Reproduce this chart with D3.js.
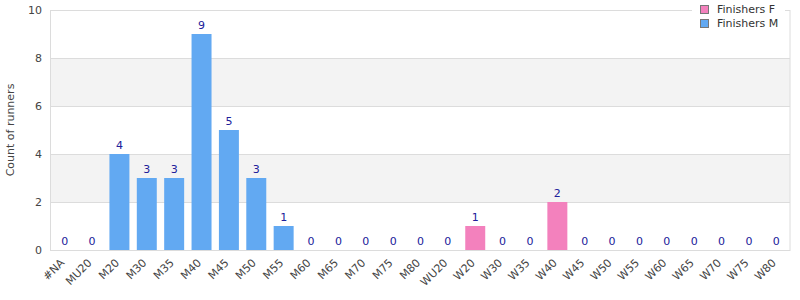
<!DOCTYPE html>
<html><head><meta charset="utf-8">
<script src="https://cdn.jsdelivr.net/npm/d3@7"></script>
<style>body{margin:0;background:#fff}svg{display:block;font-family:"DejaVu Sans",sans-serif}</style>
</head><body><svg id="c" width="800" height="300"></svg>
<script>
const categories = ["#NA","MU20","M20","M30","M35","M40","M45","M50","M55","M60","M65","M70","M75","M80","WU20","W20","W30","W35","W40","W45","W50","W55","W60","W65","W70","W75","W80"];
const finishersM = [0,0,4,3,3,9,5,3,1,0,0,0,0,0,null,null,null,null,null,null,null,null,null,null,null,null,null];
const finishersF = [null,null,null,null,null,null,null,null,null,null,null,null,null,null,0,1,0,0,2,0,0,0,0,0,0,0,0];
const yTicks = [0,2,4,6,8,10];
const seriesNames = ["Finishers F","Finishers M"];
const colors = {"Finishers F":"#f381bd","Finishers M":"#62a9f2"};

const svg = d3.select("#c");
const m = {l:51, r:10, t:10, b:50};
const W = 800, H = 300;
const x = d3.scaleBand().domain(categories).range([m.l, W - m.r]).paddingInner(0.27).paddingOuter(0.135);
const y = d3.scaleLinear().domain([0,10]).range([H - m.b, m.t]);

// alternating bands
for (let i = 0; i < yTicks.length - 1; i++) {
  if (i % 2 === 1) {
    svg.append("rect").attr("x", 50).attr("width", W - m.r - 50)
      .attr("y", y(yTicks[i+1])).attr("height", y(yTicks[i]) - y(yTicks[i+1])).attr("fill", "#f3f3f3");
  }
}
// gridlines
svg.append("g").selectAll("line").data(yTicks).join("line")
  .attr("x1", 50).attr("x2", W - m.r).attr("y1", d => y(d) + 0.5).attr("y2", d => y(d) + 0.5)
  .attr("stroke", "#dcdcdc");
// border box
svg.append("rect").attr("x", 50.5).attr("y", m.t + 0.5).attr("width", W - m.r - 50.5).attr("height", y(0) - m.t)
  .attr("fill", "none").attr("stroke", "#dcdcdc");

// y axis labels
svg.append("g").selectAll("text").data(yTicks).join("text")
  .attr("x", 42).attr("y", d => y(d) + 4).attr("text-anchor", "end")
  .attr("font-size", 11).attr("fill", "#444").text(d => d);
svg.append("text").attr("transform", `translate(10,130) rotate(-90)`).attr("text-anchor", "middle")
  .attr("font-size", 11).attr("fill", "#444").attr("dy", "0.35em").text("Count of runners");

// bars
const series = [["Finishers M", finishersM], ["Finishers F", finishersF]];
series.forEach(([name, vals]) => {
  const data = categories.map((c, i) => ({c, v: vals[i]})).filter(d => d.v !== null);
  svg.append("g").selectAll("rect").data(data.filter(d => d.v > 0)).join("rect")
    .attr("x", d => x(d.c)).attr("width", x.bandwidth())
    .attr("y", d => y(d.v)).attr("height", d => y(0) - y(d.v)).attr("fill", colors[name]);
  svg.append("g").selectAll("text").data(data).join("text")
    .attr("x", d => x(d.c) + x.bandwidth()/2).attr("y", d => y(d.v) - 5)
    .attr("text-anchor", "middle").attr("font-size", 11).attr("fill", "#20209a").text(d => d.v);
});

// x tick labels
svg.append("g").selectAll("text").data(categories).join("text")
  .attr("transform", d => `translate(${x(d) + x.bandwidth()/2 - 5},${y(0) + 8}) rotate(-45)`)
  .attr("text-anchor", "end").attr("dy", "0.7em").attr("font-size", 11).attr("fill", "#444").text(d => d);

// legend
const lg = svg.append("g");
lg.append("rect").attr("x", 692).attr("y", 0).attr("width", 93).attr("height", 30).attr("fill", "#fff");
seriesNames.forEach((n, i) => {
  lg.append("rect").attr("x", 700.5).attr("y", 5.5 + i*14).attr("width", 8).attr("height", 8)
    .attr("fill", colors[n]).attr("stroke", "#777");
  lg.append("text").attr("x", 717).attr("y", 13 + i*14).attr("font-size", 11).attr("fill", "#333").text(n);
});
</script></body></html>
